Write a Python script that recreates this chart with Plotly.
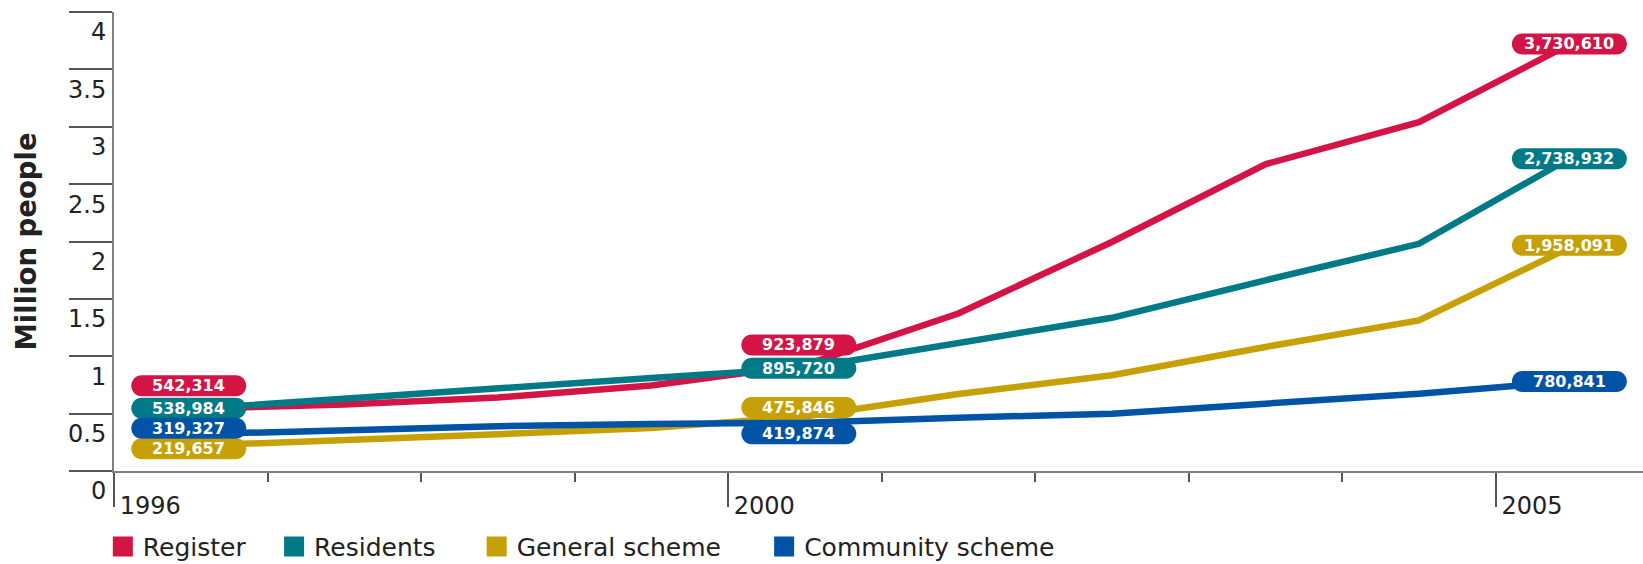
import plotly.graph_objects as go

# ---------------- data ----------------
years = [1996, 1997, 1998, 1999, 2000, 2001, 2002, 2003, 2004, 2005]
register = [542314, 580000, 640000, 745000, 923879, 1372000, 1996000, 2673000, 3040000, 3730610]
residents = [538984, 634000, 720000, 810000, 895720, 1122000, 1335000, 1662000, 1980000, 2738932]
general_scheme = [219657, 265000, 320000, 375000, 475846, 671000, 834000, 1081000, 1313000, 1958091]
community_scheme = [319327, 357000, 391000, 410000, 419874, 465000, 500000, 587000, 674000, 780841]
labelled_years = [1996, 2000, 2005]
x_tick_labels = {1996: "1996", 2000: "2000", 2005: "2005"}
y_title = "Million people"

series = [
    ("Register", register, "#D31445"),
    ("Residents", residents, "#007A87"),
    ("General scheme", general_scheme, "#C6A004"),
    ("Community scheme", community_scheme, "#0053A5"),
]

# pill label pixel offsets (style): (dx, dy) with dy positive = up
label_offsets = {
    ("Register", 1996): (-2, 23), ("Residents", 1996): (-2, 1),
    ("Community scheme", 1996): (-2, 6), ("General scheme", 1996): (-2, -3),
    ("Register", 2000): (-6, 20), ("Residents", 2000): (-6, 0),
    ("General scheme", 2000): (-6, 9), ("Community scheme", 2000): (-6, -11),
    ("Register", 2005): (-3, -1), ("Residents", 2005): (-3, -2),
    ("General scheme", 2005): (-3, 1), ("Community scheme", 2005): (-3, 0),
}

# legend box positions (paper x) for each series, and legend ids
legend_x = [-0.0073, 0.1047, 0.2372, 0.4252]
legend_ids = ["legend", "legend2", "legend3", "legend4"]

FONT = "DejaVu Sans"
PILL_W, PILL_H = 115, 21


def pill_path(dx, dy, w=PILL_W, h=PILL_H):
    r = h / 2
    a = w / 2 - r
    k = 0.5523 * r
    return (
        f"M{dx - a},{dy + r} L{dx + a},{dy + r} "
        f"C{dx + a + k},{dy + r} {dx + a + r},{dy + k} {dx + a + r},{dy} "
        f"C{dx + a + r},{dy - k} {dx + a + k},{dy - r} {dx + a},{dy - r} "
        f"L{dx - a},{dy - r} "
        f"C{dx - a - k},{dy - r} {dx - a - r},{dy - k} {dx - a - r},{dy} "
        f"C{dx - a - r},{dy + k} {dx - a - k},{dy + r} {dx - a},{dy + r} Z"
    )


fig = go.Figure()
shapes = []
annotations = []

for name, vals, color in series:
    yv = [v / 1e6 for v in vals]
    fig.add_trace(go.Scatter(
        x=years, y=yv, mode="lines", name=name, showlegend=False,
        line=dict(color=color, width=6.5), hoverinfo="skip",
    ))

for (name, vals, color), lid in zip(series, legend_ids):
    fig.add_trace(go.Scatter(
        x=[None], y=[None], mode="markers", name=name, legend=lid,
        marker=dict(symbol="square", size=16, color=color,
                    line=dict(color=color, width=4)),
    ))

for name, vals, color in series:
    for yr in labelled_years:
        i = years.index(yr)
        v = vals[i]
        dx, dy = label_offsets[(name, yr)]
        shapes.append(dict(
            type="path", xref="x", yref="y",
            xsizemode="pixel", ysizemode="pixel",
            xanchor=yr, yanchor=v / 1e6,
            path=pill_path(dx, dy),
            fillcolor=color, line=dict(width=0), layer="above",
        ))
        annotations.append(dict(
            x=yr, y=v / 1e6, xref="x", yref="y",
            xshift=dx, yshift=dy, showarrow=False,
            text=f"<b>{v:,}</b>",
            font=dict(family=FONT, size=16, color="white"),
        ))

annotations.append(dict(
    text=f"<b>{y_title}</b>", xref="paper", yref="paper", x=0, y=0.5,
    xanchor="center", yanchor="middle", xshift=-89, textangle=-90,
    showarrow=False, font=dict(family=FONT, size=27.5, color="#222222"),
))

major_vals = [y - 0.5 for y in years if y in x_tick_labels]
major_text = [x_tick_labels[y] for y in years if y in x_tick_labels]
minor_vals = [y - 0.5 for y in years if y not in x_tick_labels]

legend_style = dict(
    orientation="h", xanchor="left", y=-0.165, yanchor="middle",
    font=dict(family=FONT, size=25, color="#222222"),
    itemwidth=30, bgcolor="rgba(0,0,0,0)",
)

layout_legends = {}
for lid, lx in zip(legend_ids, legend_x):
    layout_legends[lid] = dict(legend_style, x=lx)

fig.update_layout(
    width=1643, height=564,
    margin=dict(l=114, r=0, t=12, b=93, autoexpand=False),
    paper_bgcolor="white", plot_bgcolor="white",
    font=dict(family=FONT, color="#222222"),
    shapes=shapes, annotations=annotations,
    showlegend=True,
    **layout_legends,
    xaxis=dict(
        range=[years[0] - 0.5, years[-1] + 0.46],
        tickmode="array", tickvals=major_vals, ticktext=major_text,
        ticks="outside", ticklen=34, tickwidth=1.5, tickcolor="#555555",
        ticklabelposition="outside right", ticklabelstandoff=12,
        ticklabelshift=4,
        tickfont=dict(family=FONT, size=24, color="#222222"),
        minor=dict(tickmode="array", tickvals=minor_vals, ticks="outside",
                   ticklen=9, tickwidth=1.5, tickcolor="#555555"),
        showline=True, linecolor="#808080", linewidth=2,
        showgrid=False, zeroline=False, fixedrange=True, automargin=False,
    ),
    yaxis=dict(
        range=[0, 4], tickmode="linear", tick0=0, dtick=0.5,
        ticks="outside", ticklen=43, tickwidth=1.5, tickcolor="#555555",
        ticklabelshift=20, ticklabelstandoff=-42,
        tickfont=dict(family=FONT, size=24, color="#222222"),
        showline=True, linecolor="#808080", linewidth=2,
        showgrid=False, zeroline=False, fixedrange=True, automargin=False,
    ),
)

fig.write_html(
    "out.html",
    config={"displayModeBar": False},
    post_script="document.body.style.margin='0';document.body.style.overflow='hidden';",
)
